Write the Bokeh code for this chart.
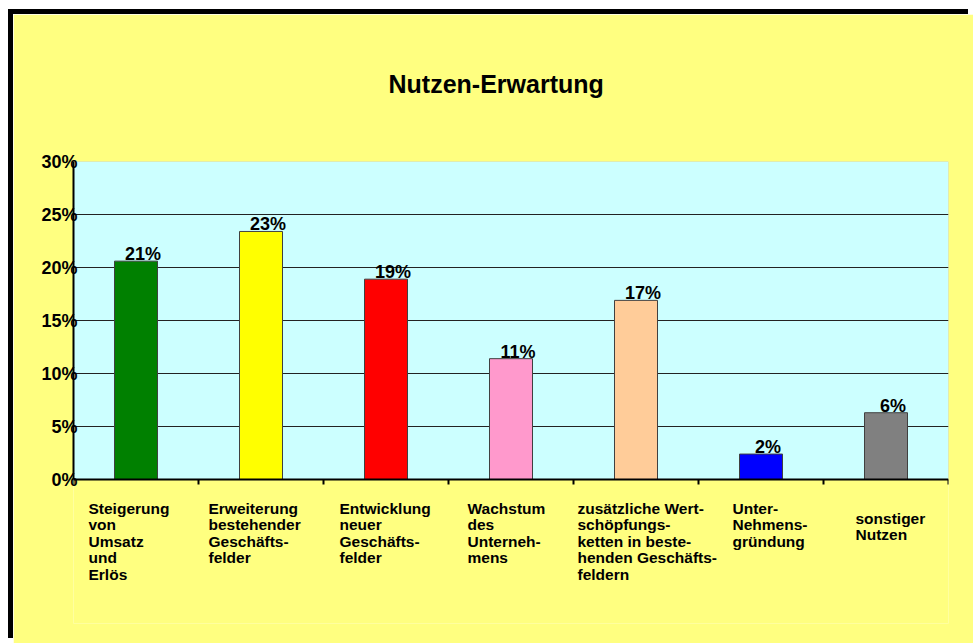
from bokeh.plotting import figure
from bokeh.models import (Range1d, FixedTicker, ColumnDataSource, LabelSet, Title,
                          BoxAnnotation, LinearAxis)
from bokeh.core.properties import value
from bokeh.embed import file_html
from bokeh.resources import INLINE

# ---- data ----
categories = [
    "Steigerung\nvon\nUmsatz\nund\nErlös",
    "Erweiterung\nbestehender\nGeschäfts-\nfelder",
    "Entwicklung\nneuer\nGeschäfts-\nfelder",
    "Wachstum\ndes\nUnterneh-\nmens",
    "zusätzliche Wert-\nschöpfungs-\nketten in beste-\nhenden Geschäfts-\nfeldern",
    "Unter-\nNehmens-\ngründung",
    "sonstiger\nNutzen",
]
values = [20.6, 23.4, 18.9, 11.4, 16.9, 2.4, 6.3]
bar_colors = ["#008000", "#FFFF00", "#FF0000", "#FF99CC", "#FFCC99", "#0000FF", "#808080"]
y_ticks = [0, 5, 10, 15, 20, 25, 30]
y_tick_labels = ["0%", "5%", "10%", "15%", "20%", "25%", "30%"]
title_text = "Nutzen-Erwartung"

# ---- layout constants (pixels) ----
cat_label_dx = [15, 10, 16, 19, 4, 34, 32]   # px right of category start
cat_label_dy = [20, 20, 20, 20, 20, 20, 30]  # px below the x axis

CANVAS_W, CANVAS_H = 960, 629
FRAME_LEFT, FRAME_RIGHT, FRAME_TOP = 60, 935, 147
PLOT_H = 318          # px spanned by 0..30 %
BOTTOM_BORDER = 20
TITLE_GAP = 59
Y_MAX = 30
px_per_unit = PLOT_H / Y_MAX
frame_h = CANVAS_H - FRAME_TOP - BOTTOM_BORDER
y_min = Y_MAX - frame_h / px_per_unit

FONT = "Liberation Sans"
YELLOW = "#FFFF80"
CYAN = "#CCFFFF"

n = len(categories)
idx = list(range(n))
centers = [i + 0.5 for i in idx]

p = figure(
    width=CANVAS_W, height=CANVAS_H,
    output_backend="svg", toolbar_location=None,
    x_range=Range1d(0, n), y_range=Range1d(y_min, Y_MAX),
    min_border_left=FRAME_LEFT, min_border_right=CANVAS_W - FRAME_RIGHT,
    min_border_top=FRAME_TOP, min_border_bottom=BOTTOM_BORDER,
    background_fill_color=YELLOW, border_fill_color=YELLOW,
)
# page frame: black strip at left and top (shadow does not change the layout)
p.styles = {"margin-left": "13px", "margin-top": "14px",
            "box-shadow": "-5px -5px 0 0 black"}
p.outline_line_color = None

# plot-area background
p.add_layout(BoxAnnotation(left=0, right=n, bottom=0, top=Y_MAX, fill_color=CYAN,
                           fill_alpha=1, line_color="#808080", line_width=1,
                           level="image"))

# spacer between frame and title (an axis with one invisible minor tick), then the title
spacer = LinearAxis(ticker=FixedTicker(ticks=[], minor_ticks=[0.5]), axis_line_color=None,
                    major_tick_out=0, major_tick_in=0, major_tick_line_color=None,
                    minor_tick_out=TITLE_GAP, minor_tick_in=0, minor_tick_line_color=None,
                    major_label_standoff=0)
p.add_layout(spacer, "above")
p.add_layout(Title(text=title_text, align="left", offset=315, text_font=FONT,
                   text_font_size="25px", text_font_style="bold", text_color="black",
                   standoff=10), "above")

src = ColumnDataSource(dict(x=centers, top=values, color=bar_colors,
                            lab=[f"{round(v)}%" for v in values]))
p.vbar(x="x", top="top", bottom=0, width=0.344, fill_color="color",
       line_color="#404040", line_width=1, source=src)

# grid
p.xgrid.visible = False
p.ygrid.ticker = FixedTicker(ticks=y_ticks[1:-1])
p.ygrid.grid_line_color = "#222222"
p.ygrid.grid_line_width = 1
p.ygrid.level = "underlay"

# y axis
yax = p.yaxis[0]
yax.ticker = FixedTicker(ticks=y_ticks)
yax.bounds = (0, Y_MAX)
yax.major_label_overrides = {v: s for v, s in zip(y_ticks, y_tick_labels)}
yax.major_label_text_font = FONT
yax.major_label_text_font_size = "18px"
yax.major_label_text_font_style = "bold"
yax.major_label_text_color = "black"
yax.major_label_text_baseline = "top"
yax.major_label_standoff = -4
yax.axis_line_color = "black"
yax.axis_line_width = 2
yax.major_tick_out = 0
yax.major_tick_in = 0
yax.minor_tick_line_color = None

# x axis (sits at y = 0 inside the frame; category boundaries as unlabelled ticks)
xax = p.below[0]
xax.fixed_location = 0
xax.bounds = (0, n)
xax.ticker = FixedTicker(ticks=[], minor_ticks=list(range(n + 1)))
xax.major_label_standoff = 0
xax.axis_line_color = "black"
xax.axis_line_width = 2
xax.major_tick_line_color = None
xax.minor_tick_out = 5
xax.minor_tick_in = 0
xax.minor_tick_line_width = 2
xax.minor_tick_line_color = "black"

# value labels
p.add_layout(LabelSet(x="x", y="top", text="lab", source=src, x_offset=7, y_offset=1,
                      text_align="center", text_baseline="alphabetic",
                      text_font=value(FONT), text_font_size="18px",
                      text_font_style="bold", text_color="black"))

# category labels
csrc = ColumnDataSource(dict(x=idx, y=[-d / px_per_unit for d in cat_label_dy],
                             text=categories, dx=cat_label_dx))
p.text(x="x", y="y", text="text", source=csrc, x_offset="dx",
       text_align="left", text_baseline="top",
       text_font=value(FONT), text_font_size="15.5px", text_font_style="bold",
       text_color="black", text_line_height=0.98)

open("out.html", "w").write(file_html(p, INLINE, title=title_text))
